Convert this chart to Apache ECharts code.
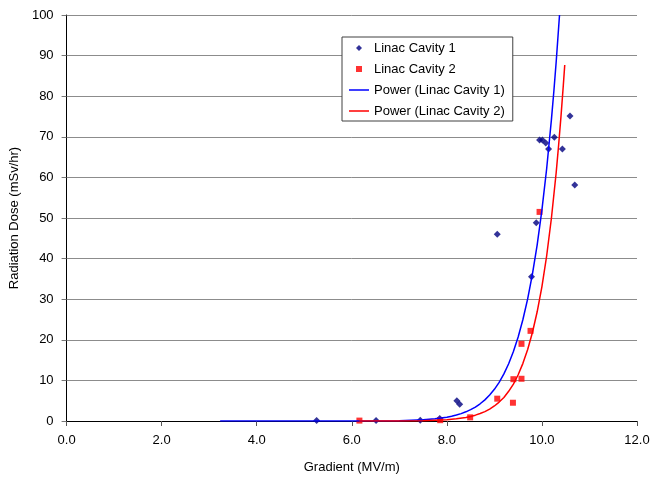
<!DOCTYPE html>
<html>
<head>
<meta charset="utf-8">
<script src="https://cdn.jsdelivr.net/npm/echarts@6/dist/echarts.min.js"></script>
<style>
  html, body { margin: 0; padding: 0; background: #fff; }
  #chart { width: 664px; height: 479px; }
</style>
</head>
<body>
<div id="chart"></div>
<script>
// measured points, Linac Cavity 1
var cav1X = [5.26, 6.51, 7.44, 7.85, 8.21, 8.27, 9.06, 9.78, 9.88, 9.95, 10.01, 10.08, 10.14, 10.26, 10.43, 10.59, 10.69];
var cav1Y = [0.1, 0.1, 0.2, 0.6, 5.0, 4.1, 46.0, 35.5, 48.8, 69.2, 69.2, 68.5, 67.0, 69.9, 67.0, 75.1, 58.1];
// measured points, Linac Cavity 2
var cav2X = [6.16, 7.86, 8.49, 9.06, 9.39, 9.40, 9.57, 9.57, 9.76, 9.95];
var cav2Y = [0.1, 0.2, 0.9, 5.5, 4.5, 10.3, 10.4, 19.0, 22.2, 51.5];
// power trendlines
var trend1X = [3.23, 5.0, 6.0, 7.0, 7.5, 7.75, 8.0, 8.1, 8.2, 8.3, 8.4, 8.5, 8.6, 8.7, 8.8, 8.9, 9.0, 9.1, 9.2, 9.3, 9.4, 9.5, 9.6, 9.7, 9.8, 9.9, 10.0, 10.1, 10.2, 10.25, 10.3, 10.37];
var trend1Y = [0, 0, 0.01, 0.08, 0.29, 0.53, 0.94, 1.17, 1.46, 1.82, 2.26, 2.79, 3.44, 4.24, 5.2, 6.39, 7.8, 9.5, 11.6, 14.1, 17.1, 20.7, 25.0, 30.1, 36.2, 43.4, 52.0, 62.2, 74.3, 81.1, 88.5, 100];
var trend2X = [6.16, 7.0, 7.5, 8.0, 8.2, 8.4, 8.5, 8.6, 8.7, 8.8, 8.9, 9.0, 9.1, 9.2, 9.3, 9.4, 9.5, 9.6, 9.7, 9.8, 9.9, 10.0, 10.1, 10.2, 10.3, 10.35, 10.4, 10.45, 10.48];
var trend2Y = [0, 0.02, 0.08, 0.32, 0.53, 0.88, 1.13, 1.44, 1.83, 2.3, 2.93, 3.7, 4.66, 5.8, 7.31, 9.1, 11.4, 14.2, 17.6, 21.8, 26.9, 33.1, 40.7, 50.0, 61.2, 67.8, 74.9, 82.7, 87.7];

var seriesNames = ['Linac Cavity 1', 'Linac Cavity 2', 'Power (Linac Cavity 1)', 'Power (Linac Cavity 2)'];

function pairs(xs, ys) {
    var out = [];
    for (var i = 0; i < xs.length; i++) out.push([xs[i], ys[i]]);
    return out;
}

// small legend icons (ECharts would size scatter symbols to the full legend box)
function svgIcon(body) {
    var s = '<svg xmlns="http://www.w3.org/2000/svg" width="20" height="14" viewBox="0 0 20 14">' + body + '</svg>';
    return 'image://data:image/svg+xml;charset=utf-8,' + encodeURIComponent(s);
}
var icons = [
    svgIcon('<polygon points="10,4 13,7 10,10 7,7" fill="#000080"/>'),
    svgIcon('<rect x="7" y="4" width="6" height="6" fill="#ff0000"/>'),
    svgIcon('<rect x="0" y="6.25" width="20" height="1.5" fill="#0000ff"/>'),
    svgIcon('<rect x="0" y="6.25" width="20" height="1.5" fill="#ff0000"/>')
];

var font = 'Liberation Sans, Arial, sans-serif';

var option = {
    backgroundColor: '#fff',
    animation: false,
    textStyle: { fontFamily: font },
    grid: { left: 65, right: 27, top: 15, bottom: 56, containLabel: false },
    legend: {
        orient: 'vertical',
        left: 342,
        top: 37,
        padding: [4, 8, 3, 7],
        itemGap: 7,
        itemWidth: 20,
        itemHeight: 14,
        backgroundColor: '#fff',
        borderColor: '#404040',
        borderWidth: 1,
        borderRadius: 0,
        selectedMode: false,
        textStyle: { fontFamily: font, fontSize: 13, color: '#000' },
        data: seriesNames.map(function (n, i) { return { name: n, icon: icons[i] }; })
    },
    xAxis: {
        type: 'value',
        min: 0,
        max: 12,
        interval: 2,
        name: 'Gradient (MV/m)',
        nameLocation: 'middle',
        nameGap: 40,
        nameTextStyle: { fontFamily: font, fontSize: 13, color: '#000' },
        axisLine: { lineStyle: { color: '#000', width: 1 } },
        axisTick: { show: true, inside: false, length: 5, lineStyle: { color: '#555' } },
        axisLabel: {
            margin: 13, fontSize: 13, color: '#000', fontFamily: font,
            formatter: function (v) { return v.toFixed(1); }
        },
        splitLine: { show: false }
    },
    yAxis: {
        type: 'value',
        min: 0,
        max: 100,
        interval: 10,
        name: 'Radiation Dose (mSv/hr)',
        nameLocation: 'middle',
        nameGap: 42,
        nameTextStyle: { fontFamily: font, fontSize: 13, color: '#000' },
        axisLine: { show: true, lineStyle: { color: '#000', width: 1 } },
        axisTick: { show: true, inside: false, length: 5, lineStyle: { color: '#777' } },
        axisLabel: { margin: 13, fontSize: 13, color: '#000', fontFamily: font },
        splitLine: { show: true, lineStyle: { color: '#8c8c8c', width: 1 } }
    },
    series: [
        {
            name: seriesNames[0],
            type: 'scatter',
            symbol: 'diamond',
            symbolSize: 7,
            itemStyle: { color: '#000080' },
            data: pairs(cav1X, cav1Y),
            z: 3
        },
        {
            name: seriesNames[1],
            type: 'scatter',
            symbol: 'rect',
            symbolSize: 6,
            itemStyle: { color: '#ff0000' },
            data: pairs(cav2X, cav2Y),
            z: 3
        },
        {
            name: seriesNames[2],
            type: 'line',
            symbol: 'none',
            lineStyle: { color: '#0000ff', width: 1.5 },
            itemStyle: { color: '#0000ff' },
            data: pairs(trend1X, trend1Y),
            z: 4
        },
        {
            name: seriesNames[3],
            type: 'line',
            symbol: 'none',
            lineStyle: { color: '#ff0000', width: 1.5 },
            itemStyle: { color: '#ff0000' },
            data: pairs(trend2X, trend2Y),
            z: 4
        }
    ]
};

var chart = echarts.init(document.getElementById('chart'));
chart.setOption(option);
</script>
</body>
</html>
